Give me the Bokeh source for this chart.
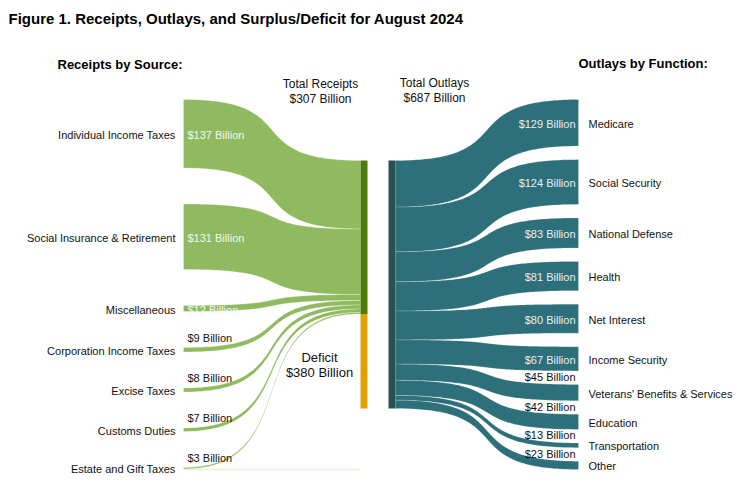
import numpy as np
from bokeh.plotting import figure
from bokeh.models import Range1d
from bokeh.core.properties import value
from bokeh.embed import file_html
from bokeh.resources import INLINE

# ---------------- data ----------------
title = "Figure 1. Receipts, Outlays, and Surplus/Deficit for August 2024"
receipt_sources = ["Individual Income Taxes", "Social Insurance & Retirement", "Miscellaneous",
                   "Corporation Income Taxes", "Excise Taxes", "Customs Duties", "Estate and Gift Taxes"]
receipt_values = [137, 131, 12, 9, 8, 7, 3]
outlay_functions = ["Medicare", "Social Security", "National Defense", "Health", "Net Interest",
                    "Income Security", "Veterans' Benefits & Services", "Education", "Transportation", "Other"]
outlay_values = [129, 124, 83, 81, 80, 67, 45, 42, 13, 23]
total_receipts = 307
total_outlays = 687
deficit = 380

# ---------------- layout / style ----------------
FONT = value("Liberation Sans")
W, H = 738, 484
L_X = 183                 # left node edge
RB_X0, RB_X1 = 360, 367   # receipts bar
OB_X0, OB_X1 = 388, 395   # outlays bar
R_X = 578                 # right node edge
TOP = 99
BAR_TOP = 160
REC_SCALE = 0.5
REC_GAP = 36
OUT_SCALE = 0.361
OUT_BOTTOM = 469
CURVE_K = 0.7

C_REC = "#8fba5f"
C_REC_BAR = "#4e7b07"
C_DEF = "#e1a200"
C_OUT = "#2d6f7a"
C_OUT_BAR = "#295053"

p = figure(width=W, height=H, x_range=Range1d(0, W), y_range=Range1d(H, 0),
           output_backend="svg", toolbar_location=None, x_axis_type=None, y_axis_type=None,
           min_border=0, outline_line_color=None)
p.grid.visible = False


def band(x0, x1, a0, b0, a1, b1, n=100, k=CURVE_K):
    t = np.linspace(0, 1, n)
    s = 3 * t ** 2 - 2 * t ** 3
    c0 = x0 + k * (x1 - x0)
    c1 = x1 - k * (x1 - x0)
    x = (1 - t) ** 3 * x0 + 3 * (1 - t) ** 2 * t * c0 + 3 * (1 - t) * t ** 2 * c1 + t ** 3 * x1
    top = a0 + (a1 - a0) * s
    bot = b0 + (b1 - b0) * s
    return list(x) + list(x[::-1]), list(top) + list(bot[::-1])


# ---- receipts flows ----
xs, ys = [], []
left_pos = []
y_left = TOP
y_bar = BAR_TOP
for v in receipt_values:
    t = v * REC_SCALE
    bx, by = band(L_X, RB_X0, y_left, y_left + t, y_bar, y_bar + t)
    xs.append(bx)
    ys.append(by)
    left_pos.append((y_left, t))
    y_left += t + REC_GAP
    y_bar += t
rec_bar_bottom = y_bar
p.patches(xs, ys, fill_color=C_REC, line_color="white", line_alpha=0.45, line_width=0.6)

# faint deficit trace along the bottom
est_top, est_t = left_pos[-1]
p.segment(x0=[L_X], y0=[est_top + est_t + 0.5], x1=[RB_X0], y1=[est_top + est_t + 0.5],
          line_color="#f4ecd6", line_width=1.5)

# ---- outlays flows ----
sum_end = sum(v * OUT_SCALE for v in outlay_values)
gap_r = (OUT_BOTTOM - TOP - sum_end) / (len(outlay_values) - 1)
xs, ys = [], []
right_pos = []
y_bar = BAR_TOP
y_right = TOP
for v in outlay_values:
    t = v * OUT_SCALE
    bx, by = band(OB_X1, R_X, y_bar, y_bar + t, y_right, y_right + t)
    xs.append(bx)
    ys.append(by)
    right_pos.append((y_right, t))
    y_bar += t
    y_right += t + gap_r
out_bar_bottom = y_bar
p.patches(xs, ys, fill_color=C_OUT, line_color="white", line_alpha=0.3, line_width=0.6)

# ---- bars ----
p.quad(left=[RB_X0], right=[RB_X1], top=[BAR_TOP], bottom=[rec_bar_bottom],
       fill_color=C_REC_BAR, line_color=None)
p.quad(left=[RB_X0], right=[RB_X1], top=[rec_bar_bottom], bottom=[out_bar_bottom],
       fill_color=C_DEF, line_color=None)
p.quad(left=[OB_X0], right=[OB_X1], top=[BAR_TOP], bottom=[out_bar_bottom],
       fill_color=C_OUT_BAR, line_color=None)

# ---- texts ----
def txt(x, y, s, size, align="left", color="#111111", bold=False, baseline="middle"):
    p.text(x=x, y=y, text=s, text_font=FONT, text_font_size=size, text_align=align,
           text_baseline=baseline, text_color=color,
           text_font_style="bold" if bold else "normal")

txt([8], [18], [title], "15px", bold=True, color="#000000")
txt([57], [64], ["Receipts by Source:"], "13px", bold=True, color="#000000")
txt([578], [63], ["Outlays by Function:"], "13px", bold=True, color="#000000")
txt([320, 320], [83, 98], ["Total Receipts", f"${total_receipts} Billion"], "12px", align="center")
txt([434, 434], [82, 97], ["Total Outlays", f"${total_outlays} Billion"], "12px", align="center")
txt([319, 319], [357, 372], ["Deficit", f"${deficit} Billion"], "13px", align="center")

# left labels
lx, ly, ls = [], [], []
wx, wy, ws = [], [], []
bx_, by_, bs = [], [], []
for name, v, (yt, t) in zip(receipt_sources, receipt_values, left_pos):
    lx.append(175); ly.append(yt + t / 2 + 1); ls.append(name)
    if v >= 10:
        wx.append(187); wy.append(yt + t / 2 + 1); ws.append(f"${v} Billion")
    else:
        bx_.append(187); by_.append(yt - 10); bs.append(f"${v} Billion")
txt(lx, ly, ls, "11px", align="right")
txt(wx, wy, ws, "11px", color="#f4f7ee")
txt(bx_, by_, bs, "11px")

# right labels
lx, ly, ls = [], [], []
wx, wy, ws = [], [], []
bx_, by_, bs = [], [], []
for name, v, (yt, t) in zip(outlay_functions, outlay_values, right_pos):
    lx.append(588); ly.append(yt + t / 2 + 1); ls.append(name)
    if v >= 50:
        wx.append(575); wy.append(yt + t / 2 + 1); ws.append(f"${v} Billion")
    else:
        bx_.append(575); by_.append(yt - 7.5); bs.append(f"${v} Billion")
txt(lx, ly, ls, "11px")
txt(wx, wy, ws, "11px", align="right", color="#e8f0f1")
txt(bx_, by_, bs, "11px", align="right")

open("out.html", "w").write(file_html(p, INLINE))
